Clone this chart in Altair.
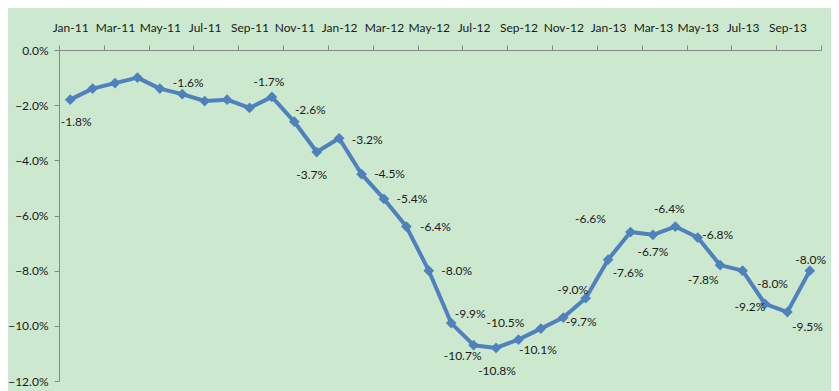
import altair as alt
import pandas as pd

# ---- data ----
months = ["Jan-11", "Feb-11", "Mar-11", "Apr-11", "May-11", "Jun-11", "Jul-11", "Aug-11",
          "Sep-11", "Oct-11", "Nov-11", "Dec-11", "Jan-12", "Feb-12", "Mar-12", "Apr-12",
          "May-12", "Jun-12", "Jul-12", "Aug-12", "Sep-12", "Oct-12", "Nov-12", "Dec-12",
          "Jan-13", "Feb-13", "Mar-13", "Apr-13", "May-13", "Jun-13", "Jul-13", "Aug-13",
          "Sep-13", "Oct-13"]
values = [-1.8, -1.4, -1.2, -1.0, -1.4, -1.6, -1.85, -1.8, -2.1, -1.7, -2.6, -3.7,
          -3.2, -4.5, -5.4, -6.4, -8.0, -9.9, -10.7, -10.8, -10.5, -10.1, -9.7, -9.0,
          -7.6, -6.6, -6.7, -6.4, -6.8, -7.8, -8.0, -9.2, -9.5, -8.0]
tick_labels = months[::2]
y_ticks = [-12, -10, -8, -6, -4, -2, 0]

# label placement (pixel offsets from the point, None = no label)
label_dx = [6, None, None, None, None, 6, None, None, None, -3, 16, -5,
            28, 28, 28, 29, 28, 19, -11, 1, -13, -3, 18, -13,
            20, -40, 0, -6, 20, -17, 30, -15, 20, 1]
label_dy = [22, None, None, None, None, -11, None, None, None, -15, -12, 23,
            2, 0, 0, 0, 0, -9, 11, 23, -17, 21, 4, -8,
            13, -13, 17, -18, -3, 15, 13, 3, 15, -11]

W, H = 762, 331
X_DOMAIN = [-0.5, len(months) - 0.5]
Y_DOMAIN = [-12, 0]
px_x = W / (X_DOMAIN[1] - X_DOMAIN[0])
px_y = H / (Y_DOMAIN[1] - Y_DOMAIN[0])

df = pd.DataFrame({"i": list(range(len(months))), "month": months, "value": values})

lab_rows = []
for i, (v, dx, dy) in enumerate(zip(values, label_dx, label_dy)):
    if dx is None:
        continue
    lab_rows.append({"lx": i + dx / px_x, "ly": v - dy / px_y, "text": f"{v:.1f}%"})
labels_df = pd.DataFrame(lab_rows)

BLUE = "#4F81BD"
FONT = "Lato"
TXT = "#1a1a1a"
AXC = "#888888"

label_arr = "[" + ",".join("'%s'" % t for t in tick_labels) + "]"
x_tick_vals = [X_DOMAIN[0] + 2 * k for k in range(len(tick_labels) + 1)]

xscale = alt.Scale(domain=X_DOMAIN, nice=False, zero=False)
yscale = alt.Scale(domain=Y_DOMAIN, nice=False, zero=False)

x_axis = alt.Axis(orient="top", values=x_tick_vals, grid=False, title=None,
                  labelExpr=label_arr + "[(datum.value + 0.5) / 2] || ''",
                  labelOffset=px_x / 2, labelPadding=11, tickSize=5,
                  domainColor=AXC, tickColor=AXC, labelFont=FONT, labelFontSize=12,
                  labelColor=TXT, labelFlush=False, labelOverlap=False)
y_axis = alt.Axis(values=y_ticks, grid=False, title=None,
                  labelExpr="format(datum.value, '.1f') + '%'",
                  tickSize=5, labelPadding=6, domainColor=AXC, tickColor=AXC,
                  labelFont=FONT, labelFontSize=12, labelColor=TXT)

base = alt.Chart(df)
line = base.mark_line(color=BLUE, strokeWidth=4, strokeJoin="round", strokeCap="round").encode(
    x=alt.X("i:Q", scale=xscale, axis=x_axis),
    y=alt.Y("value:Q", scale=yscale, axis=y_axis),
)
pts = base.mark_point(shape="diamond", filled=True, size=115, color=BLUE, opacity=1).encode(
    x=alt.X("i:Q", scale=xscale),
    y=alt.Y("value:Q", scale=yscale),
)
texts = alt.Chart(labels_df).mark_text(font=FONT, fontSize=12, color=TXT,
                                       align="center", baseline="middle").encode(
    x=alt.X("lx:Q", scale=xscale),
    y=alt.Y("ly:Q", scale=yscale),
    text="text:N",
)

chart = alt.layer(line, pts, texts).properties(
    width=W, height=H,
    background="#CCE8CF",
    padding={"left": 51, "top": 42, "right": 10, "bottom": 12},
    autosize=alt.AutoSizeParams(type="none"),
).configure_view(stroke=None)

chart.save("out.html", embed_options={"renderer": "svg", "actions": False})
